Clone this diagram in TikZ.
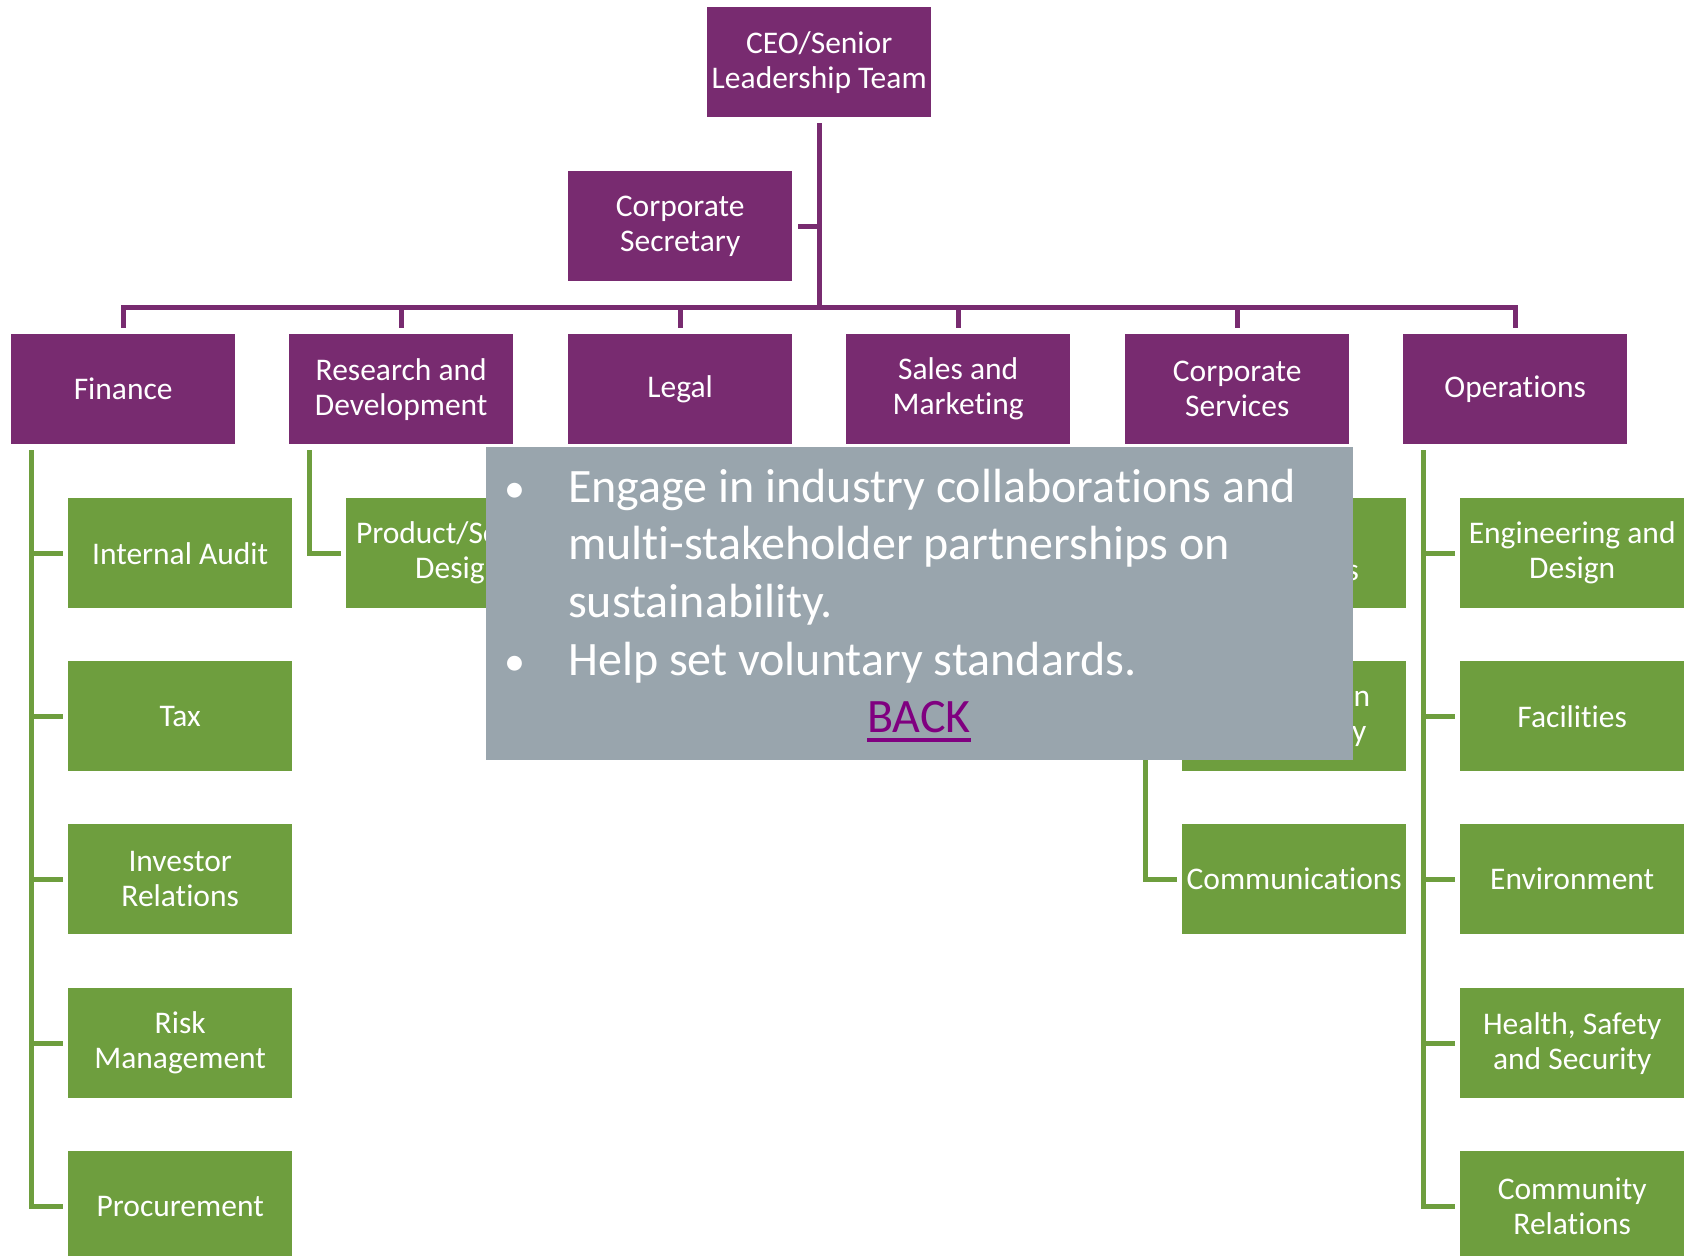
\documentclass[tikz,border=0pt]{standalone}
\usepackage{fontspec}
\setmainfont[Ligatures=NoCommon]{Carlito}
\usetikzlibrary{calc}
\definecolor{plum}{HTML}{782B70}
\definecolor{leaf}{HTML}{6E9E3E}
\definecolor{slate}{HTML}{99A5AD}
\definecolor{linkc}{HTML}{800080}
\tikzset{
  box/.style={minimum width=224pt, minimum height=110pt, inner sep=0pt, align=center,
    text=white, font=\fontsize{31.5}{35}\selectfont, anchor=north west},
  pbox/.style={box, fill=plum},
  gbox/.style={box, fill=leaf},
  pline/.style={draw=plum, line width=5pt},
  gline/.style={draw=leaf, line width=5pt},
  ovtext/.style={anchor=base west, inner sep=0pt, text=white, font=\fontsize{48}{57.5}\selectfont},
}
\begin{document}
\begin{tikzpicture}[x=1pt,y=-1pt]
\useasboundingbox (0,0) rectangle (1690,1256);
\clip (0,0) rectangle (1690,1256);
\fill[white] (0,0) rectangle (1690,1256);
% top
\node[pbox] (ceo) at (707,7) {CEO/Senior\\Leadership Team};
\node[pbox] (sec) at (568,171) {Corporate\\Secretary};
% departments
\node[pbox] (fin) at (11,334) {Finance};
\node[pbox] (rd) at (289,334) {Research and\\Development};
\node[pbox] (leg) at (568,334) {Legal};
\node[pbox] (sal) at (846,334) {Sales and\\Marketing};
\node[pbox] (cs) at (1125,334) {Corporate\\Services};
\node[pbox] (ops) at (1403,334) {Operations};
% finance children
\node[gbox] (ia) at (68,498) {Internal Audit};
\node[gbox] (tax) at (68,661) {Tax};
\node[gbox] (ir) at (68,824) {Investor\\Relations};
\node[gbox] (rm) at (68,988) {Risk\\Management};
\node[gbox] (proc) at (68,1151) {Procurement};
% R&D child
\node[gbox] (psd) at (346,498) {Product/Service\\Design};
% corporate services children
\node[gbox] (hr) at (1182,498) {Human\\Resources};
\node[gbox] (it) at (1182,661) {Information\\Technology};
\node[gbox] (com) at (1182,824) {Communications};
% operations children
\node[gbox] (eng) at (1460,498) {Engineering and\\Design};
\node[gbox] (fac) at (1460,661) {Facilities};
\node[gbox] (env) at (1460,824) {Environment};
\node[gbox] (hss) at (1460,988) {Health, Safety\\and Security};
\node[gbox] (cr) at (1460,1151) {Community\\Relations};
% purple connectors
\coordinate (bar) at (ceo.south |- 0,307);
\draw[pline] ($(ceo.south)+(0,6)$) -- (bar);
\draw[pline] ($(sec.east)+(6,0)$) -- (sec.east -| bar);
\foreach \d in {fin,rd,leg,sal,cs,ops}
  \draw[pline] (bar) -| ($(\d.north)+(0,-6)$);
% green connectors
\coordinate (fl) at ($(fin.south west)+(20,6)$);
\draw[gline] (fl) |- ($(proc.west)+(-5,0)$);
\foreach \c in {ia,tax,ir,rm}
  \draw[gline] (fl |- \c.west) -- ($(\c.west)+(-5,0)$);
\coordinate (rl) at ($(rd.south west)+(20,6)$);
\draw[gline] (rl) |- ($(psd.west)+(-5,0)$);
\coordinate (cl) at ($(cs.south west)+(20,6)$);
\draw[gline] (cl) |- ($(com.west)+(-5,0)$);
\foreach \c in {hr,it}
  \draw[gline] (cl |- \c.west) -- ($(\c.west)+(-5,0)$);
\coordinate (ol) at ($(ops.south west)+(20,6)$);
\draw[gline] (ol) |- ($(cr.west)+(-5,0)$);
\foreach \c in {eng,fac,env,hss}
  \draw[gline] (ol |- \c.west) -- ($(\c.west)+(-5,0)$);
% overlay
\node[fill=slate, minimum width=867pt, minimum height=313pt, anchor=north west, inner sep=0pt] (ov) at (486,447) {};
\node[anchor=base, inner sep=0pt, text=white, font=\fontsize{42}{57.5}\selectfont] (b1) at (515,502) {\textbullet};
\node[anchor=base, inner sep=0pt, text=white, font=\fontsize{42}{57.5}\selectfont] (b2) at (515,675) {\textbullet};
\node[ovtext] (t1) at (568,502) {Engage in industry collaborations and};
\node[ovtext] (t2) at (568,559.5) {multi-stakeholder partnerships on};
\node[ovtext] (t3) at (568,617) {sustainability.};
\node[ovtext] (t4) at (568,675) {Help set voluntary standards.};
\node[anchor=base, inner sep=0pt, text=linkc, font=\fontsize{48}{57.5}\selectfont] (back) at (919,732) {BACK};
\draw[linkc, line width=3.5pt] ($(back.base west)+(0,8)$) -- ($(back.base east)+(0,8)$);
\end{tikzpicture}
\end{document}
